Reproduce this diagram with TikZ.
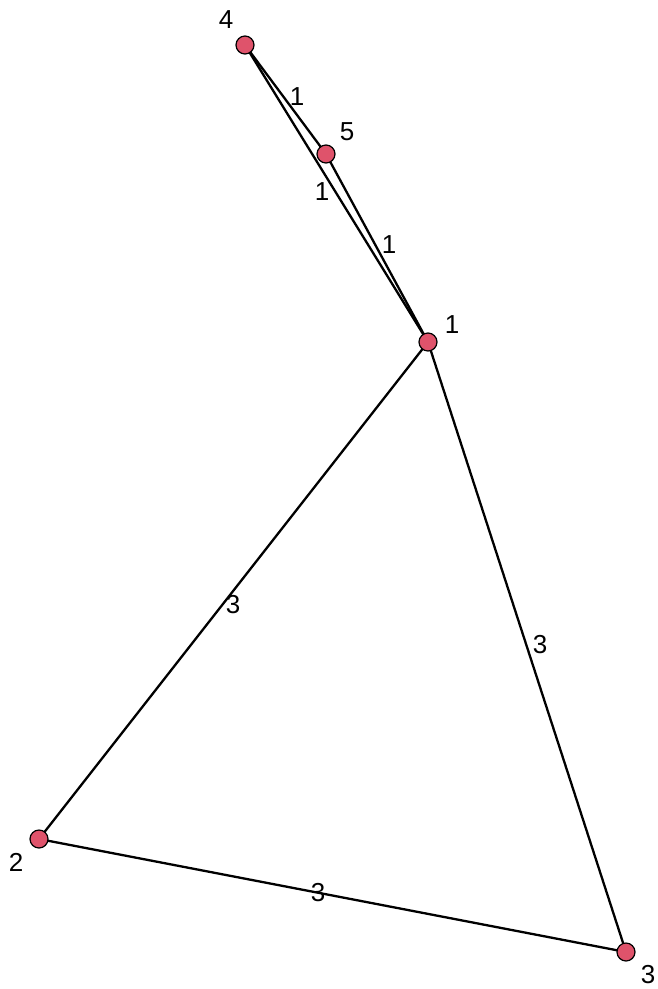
\documentclass[tikz,border=0pt]{standalone}
\usepackage{fontspec}
\setmainfont{Liberation Sans}
\definecolor{vfill}{HTML}{DF536B}
\begin{document}
\begin{tikzpicture}[x=1pt,y=-1pt,
  vertex/.style={circle,draw=black,fill=vfill,line width=1.2pt,minimum size=18pt,inner sep=0pt},
  vlabel/.style={font=\fontsize{26}{26}\selectfont,inner sep=0pt},
  elabel/.style={font=\fontsize{26}{26}\selectfont,inner sep=0pt},
  edge/.style={draw=black,line width=2.3pt}]
\useasboundingbox (0,0) rectangle (658,989);
\coordinate (p1) at (428,342);
\coordinate (p2) at (39,839);
\coordinate (p3) at (626,952);
\coordinate (p4) at (245,45);
\coordinate (p5) at (326,154);
\draw[edge] (p4) -- (p5);
\draw[edge] (p4) -- (p1);
\draw[edge] (p5) -- (p1);
\draw[edge] (p1) -- (p2);
\draw[edge] (p1) -- (p3);
\draw[edge] (p2) -- (p3);
\foreach \i in {1,...,5} \node[vertex] (v\i) at (p\i) {};
\node[vlabel] (l4) at (226,20) {4};
\node[vlabel] (l5) at (347,132) {5};
\node[vlabel] (l1) at (452,325) {1};
\node[vlabel] (l2) at (16,862) {2};
\node[vlabel] (l3) at (648,975) {3};
\node[elabel] (e45) at (297,97) {1};
\node[elabel] (e41) at (322,192) {1};
\node[elabel] (e51) at (389,245) {1};
\node[elabel] (e12) at (233,605) {3};
\node[elabel] (e13) at (540,645) {3};
\node[elabel] (e23) at (318,893) {3};
\end{tikzpicture}
\end{document}
